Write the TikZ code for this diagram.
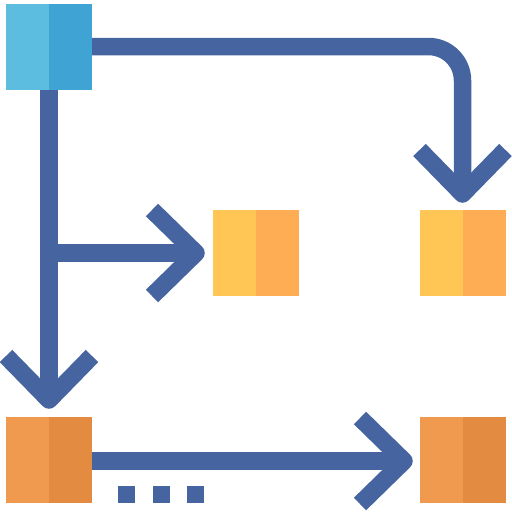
\documentclass[tikz,border=0pt]{standalone}
\definecolor{ln}{HTML}{4665A0}
\definecolor{bluel}{HTML}{5DBDE0}
\definecolor{blued}{HTML}{3FA3D3}
\definecolor{yell}{HTML}{FFC656}
\definecolor{yeld}{HTML}{FFAD55}
\definecolor{orgl}{HTML}{EF9A4E}
\definecolor{orgd}{HTML}{E38B41}
\begin{document}
\begin{tikzpicture}[x=1pt,y=-1pt,
  box/.style={minimum size=86pt,inner sep=0pt,outer sep=0pt},
  twotone/.style 2 args={box,path picture={
    \fill[#1] (path picture bounding box.south west) rectangle (path picture bounding box.north);
    \fill[#2] (path picture bounding box.north) rectangle (path picture bounding box.south east);}},
  conn/.style={draw=ln,line width=17.5pt,line cap=butt},
  chev/.style={draw=ln,line width=17.5pt,line join=round,line cap=butt},
  dotsq/.style={fill=ln}]
\useasboundingbox (0,0) rectangle (512,512);
% boxes
\node[twotone={bluel}{blued}] (b) at (49,46.5) {};
\node[twotone={yell}{yeld}] (y1) at (256,253) {};
\node[twotone={yell}{yeld}] (y2) at (463,253) {};
\node[twotone={orgl}{orgd}] (o1) at (49,460) {};
\node[twotone={orgl}{orgd}] (o2) at (463,460) {};
% tip coordinates
\coordinate (t1) at (462.5,194);
\coordinate (t2) at (49,400);
\coordinate (br) at (49,253);
\coordinate (t3) at (196,253);
\coordinate (t4) at (404,461);
% connectors
\draw[conn,rounded corners=34pt] (b.east) -- (462.5,46.5) -- (t1);
\draw[conn] (b.south) -- (t2);
\draw[conn] (br) -- (t3);
\draw[conn] (o1.east |- t4) -- (t4);
% chevrons
\draw[chev] ([shift={(-43,-44)}]t1) -- (t1) -- ([shift={(43,-44)}]t1);
\draw[chev] ([shift={(-43,-44)}]t2) -- (t2) -- ([shift={(43,-44)}]t2);
\draw[chev] ([shift={(-44,-43)}]t3) -- (t3) -- ([shift={(-44,43)}]t3);
\draw[chev] ([shift={(-44,-43)}]t4) -- (t4) -- ([shift={(-44,43)}]t4);
% dots
\fill[dotsq] (118,486) rectangle (135,503);
\fill[dotsq] (153,486) rectangle (170,503);
\fill[dotsq] (187,486) rectangle (204,503);
\end{tikzpicture}
\end{document}
